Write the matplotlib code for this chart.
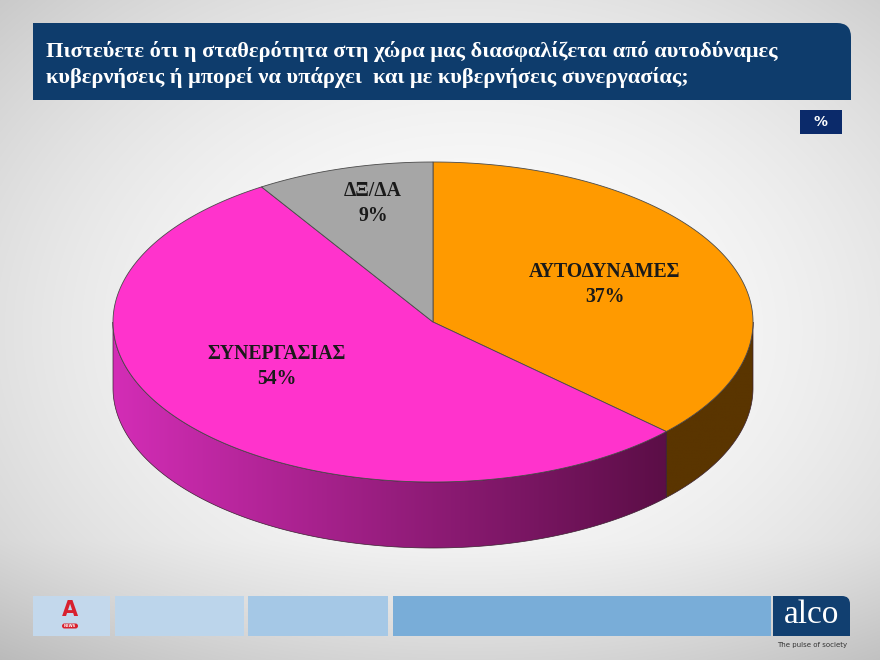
import numpy as np
import matplotlib
matplotlib.use("Agg")
import matplotlib.pyplot as plt
from matplotlib.patches import Polygon, FancyBboxPatch, Rectangle
from matplotlib.colors import to_rgb

# ---- data ----
categories = ["ΑΥΤΟΔΥΝΑΜΕΣ", "ΣΥΝΕΡΓΑΣΙΑΣ", "ΔΞ/ΔΑ"]
values = [37, 54, 9]
top_colors = ["#FF9A00", "#FF33CC", "#A6A6A6"]
side_colors = [("#633B00", "#5A3500"), ("#D32DB6", "#5C0E47"), ("#7A7A7A", "#7A7A7A")]
title_lines = ["Πιστεύετε ότι η σταθερότητα στη χώρα μας διασφαλίζεται από αυτοδύναμες",
               "κυβερνήσεις ή μπορεί να υπάρχει  και με κυβερνήσεις συνεργασίας;"]

W, H = 880, 660
SERIF = ["Liberation Serif", "DejaVu Serif"]

fig = plt.figure(figsize=(W / 100, H / 100), dpi=100)
ax = fig.add_axes([0, 0, 1, 1])
ax.set_xlim(0, W)
ax.set_ylim(H, 0)
ax.axis("off")

# ---- background: soft grey gradient, light in the middle ----
yy, xx = np.mgrid[0:H, 0:W]
r = np.sqrt(((xx - 470) / 560.0) ** 2 + ((yy - 330) / 420.0) ** 2)
shade = 0.99 - 0.15 * np.clip(r, 0, 1.3) ** 2
shade -= 0.06 * np.clip((yy - 540) / 120.0, 0, 1)
shade = np.clip(shade, 0.70, 1.0)
bg = np.dstack([shade, shade, shade])
ax.imshow(bg, extent=(0, W, H, 0), zorder=0, aspect="auto", interpolation="bilinear")

# ---- title banner ----
ax.add_patch(FancyBboxPatch((33, 23), 818, 77, boxstyle="round,pad=0,rounding_size=14",
                            fc="#0E3C6C", ec="none", zorder=2))
ax.add_patch(Rectangle((33, 23), 400, 77, fc="#0E3C6C", ec="none", zorder=2))
ax.add_patch(Rectangle((33, 60), 818, 40, fc="#0E3C6C", ec="none", zorder=2))
for i, line in enumerate(title_lines):
    ax.text(46, 52 + i * 25, line, color="white", fontsize=16.1, fontweight="bold",
            family=SERIF, ha="left", va="center", zorder=3)

# ---- "%" tag ----
ax.add_patch(Rectangle((800, 110), 42, 24, fc="#0B2A6A", ec="none", zorder=2))
ax.text(821, 122, "%", color="white", fontsize=10, fontweight="bold",
        ha="center", va="center", zorder=3)

# ---- 3-D elliptical pie ----
cx, cy, rx, ry, depth = 433.0, 322.0, 320.0, 160.0, 66.0


def pt(t, dy=0.0):
    return cx + rx * np.cos(t), cy - ry * np.sin(t) + dy


fracs = np.array(values, dtype=float) / np.sum(values)
starts = np.deg2rad(90.0) - 2 * np.pi * np.concatenate([[0], np.cumsum(fracs)[:-1]])
ends = starts - 2 * np.pi * fracs

# side walls (only the front half, angles between pi and 2*pi, is visible)
for i in range(len(values)):
    a0, a1 = ends[i], starts[i]
    segs = []
    for k in range(-2, 3):
        s = max(a0, np.pi + 2 * np.pi * k)
        e = min(a1, 2 * np.pi + 2 * np.pi * k)
        if e > s:
            segs.append((s, e))
    for s, e in segs:
        t = np.linspace(s, e, 200)
        xt, yt = pt(t)
        xb, yb = pt(t[::-1], depth)
        verts = np.column_stack([np.r_[xt, xb], np.r_[yt, yb]])
        poly = Polygon(verts, closed=True, fc="none", ec="none", zorder=3)
        ax.add_patch(poly)
        x0, x1 = verts[:, 0].min(), verts[:, 0].max()
        y0, y1 = verts[:, 1].min(), verts[:, 1].max()
        c0, c1 = np.array(to_rgb(side_colors[i][0])), np.array(to_rgb(side_colors[i][1]))
        gx = np.linspace(x0, x1, 256)
        u = np.clip((gx - (cx - rx)) / (2 * rx * 0.86), 0, 1)[None, :, None]
        grad = c0 * (1 - u) + c1 * u
        im = ax.imshow(grad, extent=(x0, x1, y1, y0), aspect="auto", zorder=3,
                       interpolation="bilinear")
        im.set_clip_path(poly)
        ax.add_patch(Polygon(verts, closed=True, fc="none", ec="#3A2030", lw=0.5, zorder=3.5))

# top faces
for i in range(len(values)):
    t = np.linspace(starts[i], ends[i], 300)
    xs, ys = pt(t)
    verts = np.column_stack([np.r_[cx, xs], np.r_[cy, ys]])
    ax.add_patch(Polygon(verts, closed=True, fc=top_colors[i], ec="#4A4A4A", lw=0.6, zorder=4))

# slice labels
label_pos = [(605, 284), (277, 366), (373, 203)]
for (lx, ly), name, v in zip(label_pos, categories, values):
    ax.text(lx, ly - 12, name, fontsize=14.2, fontweight="bold", family=SERIF,
            color="#1A1A1A", ha="center", va="center", zorder=6)
    ax.text(lx, ly + 13, f"{v}%", fontsize=14.2, fontweight="bold", family=SERIF,
            color="#1A1A1A", ha="center", va="center", zorder=6)

# ---- footer strip ----
ax.add_patch(Rectangle((33, 596), 77, 40, fc="#C3D8EC", ec="none", zorder=2))
ax.add_patch(Rectangle((115, 596), 129, 40, fc="#BCD5EB", ec="none", zorder=2))
ax.add_patch(Rectangle((248, 596), 140, 40, fc="#A5C8E6", ec="none", zorder=2))
ax.add_patch(Rectangle((393, 596), 378, 40, fc="#79ADD8", ec="none", zorder=2))

# channel mark
ax.text(70, 610, "A", color="#D8202E", fontsize=15, fontweight="bold", family=["DejaVu Sans"],
        ha="center", va="center", zorder=3)
ax.add_patch(FancyBboxPatch((62, 623.5), 16, 5, boxstyle="round,pad=0,rounding_size=2.5",
                            fc="#D8202E", ec="none", zorder=3))
ax.text(70, 626, "NEWS", color="white", fontsize=2.6, fontweight="bold",
        ha="center", va="center", zorder=4)

# pollster box
ax.add_patch(FancyBboxPatch((773, 596), 77, 40, boxstyle="round,pad=0,rounding_size=8",
                            fc="#113F70", ec="none", zorder=2))
ax.add_patch(Rectangle((773, 596), 40, 40, fc="#113F70", ec="none", zorder=2))
ax.add_patch(Rectangle((773, 616), 77, 20, fc="#113F70", ec="none", zorder=2))
ax.text(812, 615, "alco", color="white", fontsize=24, family=SERIF,
        ha="center", va="center", zorder=3)
ax.text(812, 645, "The pulse of society", color="#333333", fontsize=5,
        family=["Liberation Sans Narrow", "DejaVu Sans"],
        ha="center", va="center", zorder=3)

fig.savefig("out.png", dpi=100)
